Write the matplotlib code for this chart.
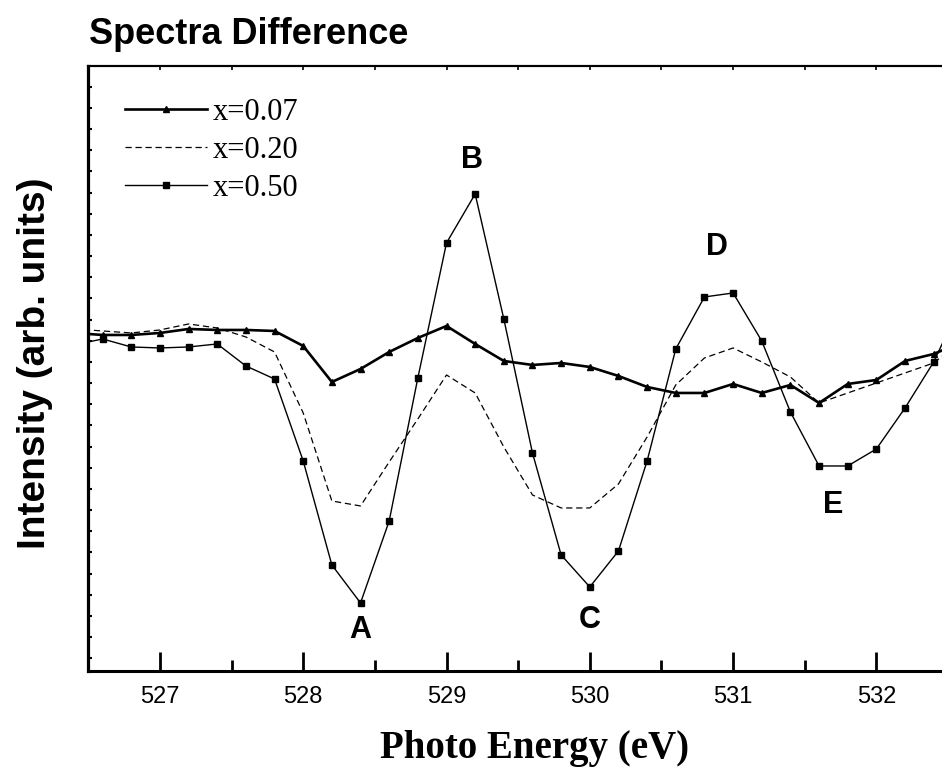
"""Spectra difference plot for the three doping levels."""

import matplotlib
matplotlib.use("Agg")
import matplotlib.pyplot as plt
import numpy as np

# photon energy grid (eV), 0.2 eV steps
energy = np.round(np.arange(526.4, 532.61, 0.2), 1)

# difference spectra, arbitrary units
diff_007 = [3.38, 3.36, 3.36, 3.38, 3.42, 3.41, 3.41, 3.40, 3.25, 2.89,
            3.02, 3.19, 3.33, 3.45, 3.27, 3.10, 3.06, 3.08, 3.04, 2.95,
            2.84, 2.78, 2.78, 2.87, 2.78, 2.86, 2.68, 2.87, 2.91, 3.10,
            3.17, 3.29]
diff_020 = [3.42, 3.40, 3.38, 3.41, 3.47, 3.43, 3.34, 3.19, 2.58, 1.70,
            1.65, 2.09, 2.52, 2.96, 2.78, 2.24, 1.76, 1.63, 1.63, 1.87,
            2.34, 2.86, 3.13, 3.23, 3.09, 2.94, 2.68, 2.78, 2.88, 2.98,
            3.08, 3.31]
diff_050 = [3.26, 3.32, 3.24, 3.23, 3.24, 3.27, 3.05, 2.92, 2.10, 1.06,
            0.68, 1.50, 2.93, 4.28, 4.77, 3.52, 2.18, 1.16, 0.84, 1.20,
            2.10, 3.22, 3.74, 3.78, 3.30, 2.59, 2.05, 2.05, 2.22, 2.63,
            3.09, 3.70]

# feature labels: (letter, energy, intensity)
features = [("A", 528.40, 0.41), ("B", 529.18, 5.11), ("C", 530.00, 0.51),
            ("D", 530.89, 4.24), ("E", 531.70, 1.66)]

sans = "Liberation Sans"
serif = "Liberation Serif"

fig = plt.figure(figsize=(9.42, 7.67), dpi=100)
ax = fig.add_axes([0.0937, 0.1252, 0.9127, 0.7888])

ax.plot(energy, diff_007, color="black", lw=1.9, marker="^", ms=5,
        label="x=0.07")
ax.plot(energy, diff_020, color="black", lw=0.9, ls=(0, (5, 3)),
        label="x=0.20")
ax.plot(energy, diff_050, color="black", lw=1.0, marker="s", ms=4.5,
        label="x=0.50")

for letter, xe, yi in features:
    ax.text(xe, yi, letter, ha="center", va="center", fontsize=22,
            fontweight="bold", family=sans)

ax.set_xlim(526.5, 532.5)
ax.set_ylim(0, 6.05)

ax.set_xticks(np.arange(527, 533, 1))
ax.set_xticks(np.arange(527.5, 532.5, 1), minor=True)
ax.set_yticks(np.arange(0.127, 6.0, 0.2117))
ax.tick_params(axis="x", which="major", direction="in", length=14, width=2,
               labelsize=17, pad=11)
ax.tick_params(axis="x", which="minor", direction="in", length=8, width=2)
ax.tick_params(axis="y", direction="in", length=3, width=1.5, labelleft=False)
for lab in ax.get_xticklabels():
    lab.set_family(sans)

ax.spines["left"].set_linewidth(2.3)
ax.spines["bottom"].set_linewidth(2.2)
ax.spines["top"].set_linewidth(1.5)

top = ax.secondary_xaxis("top")
top.set_xticks(np.arange(527, 532.6, 0.5))
top.tick_params(direction="in", length=3, width=1.2, labeltop=False)
top.spines["top"].set_linewidth(1.5)

ax.set_xlabel("Photo Energy (eV)", family=serif, fontweight="bold",
              fontsize=28)
ax.xaxis.set_label_coords(0.519, -0.097)
ax.set_ylabel("Intensity (arb. units)", family=sans, fontweight="bold",
              fontsize=28)
ax.yaxis.set_label_coords(-0.041, 0.508)
fig.text(0.095, 0.9544, "Spectra Difference", family=sans, fontweight="bold",
         fontsize=26, ha="left", va="center")

ax.legend(loc="upper left", bbox_to_anchor=(0.0427, 0.9474), frameon=False,
          prop={"family": serif, "size": 22}, handlelength=2.68,
          handletextpad=0.2, labelspacing=0.29, borderaxespad=0,
          borderpad=0)

fig.savefig("out.png", dpi=100)
